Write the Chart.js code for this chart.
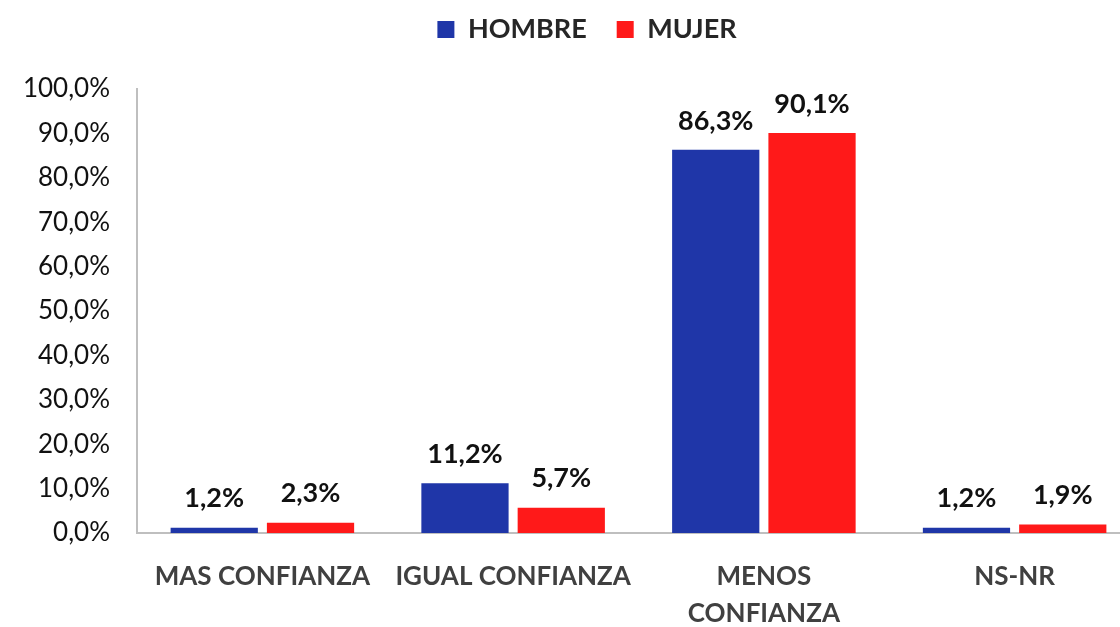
<!DOCTYPE html>
<html><head><meta charset="utf-8">
<script src="https://cdn.jsdelivr.net/npm/chart.js@4.4.1/dist/chart.umd.min.js"></script>
<style>html,body{margin:0;padding:0;background:#fff;overflow:hidden;width:1120px;height:627px}
#wrap{width:1140px;height:627px}</style></head>
<body><div id="wrap"><canvas id="c" width="1140" height="627"></canvas></div>
<script>
const categories = [["MAS CONFIANZA"], ["IGUAL CONFIANZA"], ["MENOS", "CONFIANZA"], ["NS-NR"]];
const seriesNames = ["HOMBRE", "MUJER"];
const hombre = [1.2, 11.2, 86.3, 1.2];
const mujer = [2.3, 5.7, 90.1, 1.9];
const yTicks = [0, 10, 20, 30, 40, 50, 60, 70, 80, 90, 100];

const FONT = "Lato, 'Open Sans', sans-serif";
const fmt = v => v.toFixed(1).replace('.', ',') + '%';

const labelPlugin = {
  id: 'barLabels',
  beforeUpdate(chart) {
    const lg = chart.legend;
    if (lg && !lg._patched) {
      const orig = lg.fit;
      lg.fit = function () { orig.call(this); this.height += 36; };
      lg._patched = true;
    }
  },
  afterLayout(chart) {
    const lg = chart.legend;
    if (lg) { lg.left += 17; lg.right += 17; }
  },
  afterDatasetsDraw(chart) {
    const ctx = chart.ctx;
    ctx.save();
    ctx.font = "bold 27px " + FONT;
    ctx.fillStyle = "#111";
    ctx.textAlign = "center";
    ctx.textBaseline = "middle";
    chart.data.datasets.forEach((ds, i) => {
      chart.getDatasetMeta(i).data.forEach((bar, j) => {
        ctx.fillText(fmt(ds.data[j]), bar.x, bar.y - 29);
      });
    });
    ctx.restore();
  }
};

new Chart(document.getElementById('c'), {
  type: 'bar',
  data: {
    labels: categories,
    datasets: [
      { label: seriesNames[0], data: hombre, backgroundColor: '#1F36A8', categoryPercentage: 0.768, barPercentage: 0.906 },
      { label: seriesNames[1], data: mujer, backgroundColor: '#FF1919', categoryPercentage: 0.768, barPercentage: 0.906 }
    ]
  },
  options: {
    responsive: false,
    devicePixelRatio: 1,
    animation: false,
    layout: { padding: { top: -14, left: 0, right: 0, bottom: 0 } },
    plugins: {
      legend: {
        position: 'top',
        labels: { font: { family: FONT, size: 27, weight: 'bold' }, color: '#262626', boxWidth: 17, boxHeight: 17, padding: 30 }
      },
      tooltip: { enabled: false }
    },
    scales: {
      x: {
        grid: { display: false, drawTicks: false },
        border: { display: true, color: '#BFBFBF', width: 2 },
        ticks: { font: { family: FONT, size: 26, weight: 'bold', lineHeight: 1.42 }, color: '#404040', padding: 25, maxRotation: 0, autoSkip: false },
        afterFit(s) { s.height = 94; }
      },
      y: {
        min: 0, max: 100,
        afterBuildTicks(s) { s.ticks = yTicks.map(v => ({ value: v })); },
        grid: { display: false, drawTicks: false },
        border: { display: true, color: '#BFBFBF', width: 2 },
        ticks: { font: { family: FONT, size: 26 }, color: '#111', padding: 27, callback: v => fmt(v) },
        afterFit(s) { s.width = 137; }
      }
    }
  },
  plugins: [labelPlugin]
});
</script></body></html>
